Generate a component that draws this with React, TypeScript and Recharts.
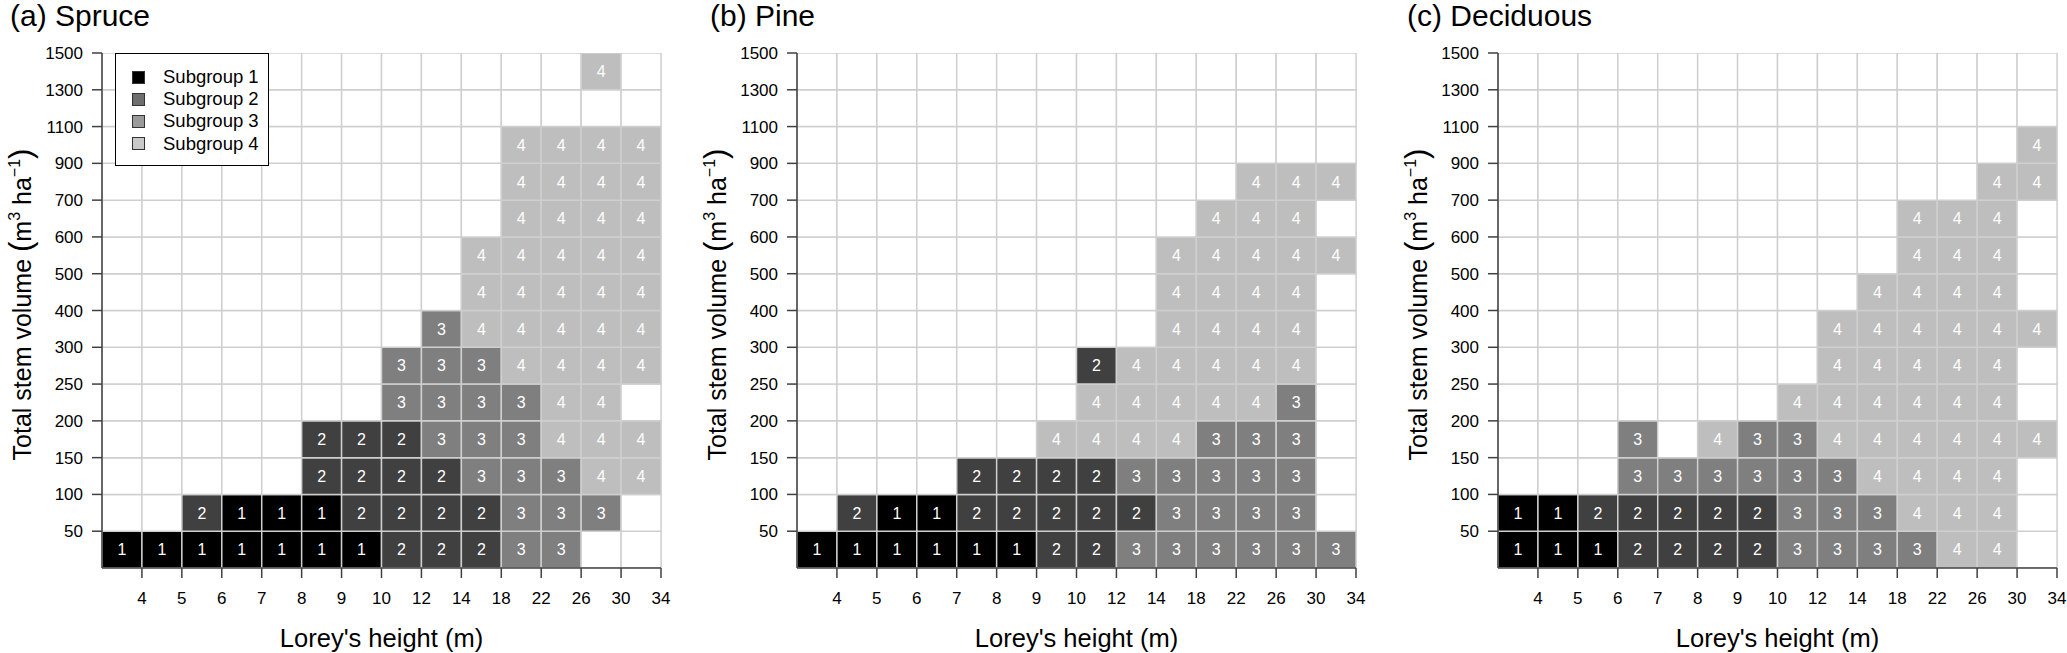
import React from "react";
import { BarChart, Bar, Cell, XAxis, YAxis, LabelList, Legend } from "recharts";

// class boundaries shown on the axes (first column and first row have no lower label)
const heightLabels = ["4", "5", "6", "7", "8", "9", "10", "12", "14", "18", "22", "26", "30", "34"];
const volumeLabels = ["50", "100", "150", "200", "250", "300", "400", "500", "600", "700", "900", "1100", "1300", "1500"];
const subgroupNames = ["Subgroup 1", "Subgroup 2", "Subgroup 3", "Subgroup 4"];

// subgroup of each cell; rows go upward from the 0-50 class, columns from <4 m to 30-34 m; 0 = empty
const spruce = [
  [1, 1, 1, 1, 1, 1, 1, 2, 2, 2, 3, 3, 0, 0],
  [0, 0, 2, 1, 1, 1, 2, 2, 2, 2, 3, 3, 3, 0],
  [0, 0, 0, 0, 0, 2, 2, 2, 2, 3, 3, 3, 4, 4],
  [0, 0, 0, 0, 0, 2, 2, 2, 3, 3, 3, 4, 4, 4],
  [0, 0, 0, 0, 0, 0, 0, 3, 3, 3, 3, 4, 4, 0],
  [0, 0, 0, 0, 0, 0, 0, 3, 3, 3, 4, 4, 4, 4],
  [0, 0, 0, 0, 0, 0, 0, 0, 3, 4, 4, 4, 4, 4],
  [0, 0, 0, 0, 0, 0, 0, 0, 0, 4, 4, 4, 4, 4],
  [0, 0, 0, 0, 0, 0, 0, 0, 0, 4, 4, 4, 4, 4],
  [0, 0, 0, 0, 0, 0, 0, 0, 0, 0, 4, 4, 4, 4],
  [0, 0, 0, 0, 0, 0, 0, 0, 0, 0, 4, 4, 4, 4],
  [0, 0, 0, 0, 0, 0, 0, 0, 0, 0, 4, 4, 4, 4],
  [0, 0, 0, 0, 0, 0, 0, 0, 0, 0, 0, 0, 0, 0],
  [0, 0, 0, 0, 0, 0, 0, 0, 0, 0, 0, 0, 4, 0],
];

const pine = [
  [1, 1, 1, 1, 1, 1, 2, 2, 3, 3, 3, 3, 3, 3],
  [0, 2, 1, 1, 2, 2, 2, 2, 2, 3, 3, 3, 3, 0],
  [0, 0, 0, 0, 2, 2, 2, 2, 3, 3, 3, 3, 3, 0],
  [0, 0, 0, 0, 0, 0, 4, 4, 4, 4, 3, 3, 3, 0],
  [0, 0, 0, 0, 0, 0, 0, 4, 4, 4, 4, 4, 3, 0],
  [0, 0, 0, 0, 0, 0, 0, 2, 4, 4, 4, 4, 4, 0],
  [0, 0, 0, 0, 0, 0, 0, 0, 0, 4, 4, 4, 4, 0],
  [0, 0, 0, 0, 0, 0, 0, 0, 0, 4, 4, 4, 4, 0],
  [0, 0, 0, 0, 0, 0, 0, 0, 0, 4, 4, 4, 4, 4],
  [0, 0, 0, 0, 0, 0, 0, 0, 0, 0, 4, 4, 4, 0],
  [0, 0, 0, 0, 0, 0, 0, 0, 0, 0, 0, 4, 4, 4],
  [0, 0, 0, 0, 0, 0, 0, 0, 0, 0, 0, 0, 0, 0],
  [0, 0, 0, 0, 0, 0, 0, 0, 0, 0, 0, 0, 0, 0],
  [0, 0, 0, 0, 0, 0, 0, 0, 0, 0, 0, 0, 0, 0],
];

const deciduous = [
  [1, 1, 1, 2, 2, 2, 2, 3, 3, 3, 3, 4, 4, 0],
  [1, 1, 2, 2, 2, 2, 2, 3, 3, 3, 4, 4, 4, 0],
  [0, 0, 0, 3, 3, 3, 3, 3, 3, 4, 4, 4, 4, 0],
  [0, 0, 0, 3, 0, 4, 3, 3, 4, 4, 4, 4, 4, 4],
  [0, 0, 0, 0, 0, 0, 0, 4, 4, 4, 4, 4, 4, 0],
  [0, 0, 0, 0, 0, 0, 0, 0, 4, 4, 4, 4, 4, 0],
  [0, 0, 0, 0, 0, 0, 0, 0, 4, 4, 4, 4, 4, 4],
  [0, 0, 0, 0, 0, 0, 0, 0, 0, 4, 4, 4, 4, 0],
  [0, 0, 0, 0, 0, 0, 0, 0, 0, 0, 4, 4, 4, 0],
  [0, 0, 0, 0, 0, 0, 0, 0, 0, 0, 4, 4, 4, 0],
  [0, 0, 0, 0, 0, 0, 0, 0, 0, 0, 0, 0, 4, 4],
  [0, 0, 0, 0, 0, 0, 0, 0, 0, 0, 0, 0, 0, 4],
  [0, 0, 0, 0, 0, 0, 0, 0, 0, 0, 0, 0, 0, 0],
  [0, 0, 0, 0, 0, 0, 0, 0, 0, 0, 0, 0, 0, 0],
];

const cellFill = ["#ffffff", "#000000", "#404040", "#7f7f7f", "#bebebe"];
const legendFill = ["#000000", "#6e6e6e", "#9a9a9a", "#c9c9c9"];
const gridColor = "#cfcfcf";
const axisColor = "#404040";
const font = "'Liberation Sans', Arial, Helvetica, sans-serif";

const boundaryTicks = heightLabels.map((_, i) => i + 1);
const rowIds = volumeLabels.map((_, i) => i);

// one entry per height class, each volume class stacked as a band of height 1;
// "edge" is the index of the class's upper boundary, used by the labelled axis
const toColumns = (grid: number[][]) =>
  heightLabels.map((_, c) => {
    const entry: Record<string, number> = { col: c, edge: c + 1 };
    grid.forEach((row, r) => {
      entry[`h${r}`] = 1;
      entry[`g${r}`] = row[c];
    });
    return entry;
  });

const CellNumber = (props: any) => {
  const { x, y, width, height, value } = props;
  if (!value) return null;
  return (
    <text x={x + width / 2} y={y + height / 2} dy="0.36em" textAnchor="middle" fill="#ffffff" fontSize={16}>
      {value}
    </text>
  );
};

const HeightTitle = (props: any) => {
  const vb = props.viewBox;
  return (
    <text x={vb.x + vb.width / 2} y={vb.y + 79} textAnchor="middle" fontSize={25.5} fill="#000">
      Lorey's height (m)
    </text>
  );
};

const VolumeTitle = (props: any) => {
  const vb = props.viewBox;
  const bx = vb.x + vb.width - 71;
  const cy = vb.y + vb.height / 2 - 6;
  return (
    <text transform={`rotate(-90, ${bx}, ${cy})`} x={bx} y={cy} textAnchor="middle" fontSize={25} fill="#000">
      <tspan>{"Total stem volume "}</tspan>
      <tspan fontSize={31}>(</tspan>
      <tspan>m</tspan>
      <tspan fontSize={16} dy={-11}>3</tspan>
      <tspan dy={11}>{"  ha"}</tspan>
      <tspan fontSize={16} dy={-11}>−1</tspan>
      <tspan fontSize={31} dy={11}>)</tspan>
    </text>
  );
};

const SubgroupLegend = () => (
  <div
    style={{
      border: "1px solid #000",
      background: "#fff",
      width: 152,
      height: 111,
      position: "relative",
      fontFamily: font,
      fontSize: 18.5,
      color: "#000",
    }}
  >
    {subgroupNames.map((name, i) => (
      <div key={name} style={{ position: "absolute", left: 0, top: 12 + i * 22.2, height: 22, width: 152 }}>
        <div
          style={{
            position: "absolute",
            left: 16,
            top: 4.5,
            width: 13,
            height: 13,
            boxSizing: "border-box",
            background: legendFill[i],
            border: "1px solid #333",
          }}
        />
        <div style={{ position: "absolute", left: 47, top: 0, lineHeight: "22px", whiteSpace: "nowrap" }}>{name}</div>
      </div>
    ))}
  </div>
);

interface PanelProps {
  title: string;
  grid: number[][];
  left: number;
  titleX: number;
  axisWidth: number;
  rightMargin: number;
  showLegend?: boolean;
}

const Panel = ({ title, grid, left, titleX, axisWidth, rightMargin, showLegend }: PanelProps) => {
  const cols = toColumns(grid);
  return (
    <div style={{ position: "absolute", left, top: 0, width: 689, height: 653 }}>
      <div style={{ position: "absolute", left: titleX, top: 1, fontSize: 30, lineHeight: "30px", whiteSpace: "nowrap" }}>
        {title}
      </div>
      <BarChart
        width={689}
        height={653}
        data={cols}
        margin={{ top: 53, right: rightMargin, bottom: 0, left: 0 }}
        barCategoryGap={0}
        barGap={0}
      >
        {rowIds.map((r) => (
          <Bar key={r} dataKey={`h${r}`} stackId="v" xAxisId="cat" isAnimationActive={false}>
            {cols.map((d, c) => (
              <Cell key={c} fill={cellFill[d[`g${r}`]]} stroke={gridColor} strokeWidth={1.5} />
            ))}
            <LabelList dataKey={`g${r}`} content={CellNumber} />
          </Bar>
        ))}
        <XAxis xAxisId="cat" dataKey="col" type="category" hide height={0} />
        <XAxis
          xAxisId="edge"
          dataKey="edge"
          type="number"
          domain={[0, 14]}
          allowDataOverflow
          ticks={boundaryTicks}
          interval={0}
          tickFormatter={(v: number) => heightLabels[v - 1]}
          height={85}
          tickSize={10}
          tickMargin={14}
          stroke={axisColor}
          strokeWidth={1.5}
          tick={{ fill: "#000", fontSize: 17 }}
          label={(p: any) => <HeightTitle {...p} />}
        />
        <YAxis
          type="number"
          domain={[0, 14]}
          allowDataOverflow
          ticks={boundaryTicks}
          interval={0}
          tickFormatter={(v: number) => volumeLabels[v - 1]}
          width={axisWidth}
          tickSize={10}
          tickMargin={9}
          stroke={axisColor}
          strokeWidth={1.5}
          tick={{ fill: "#000", fontSize: 17 }}
          label={(p: any) => <VolumeTitle {...p} />}
        />
        {showLegend && (
          <Legend
            layout="vertical"
            align="center"
            verticalAlign="middle"
            wrapperStyle={{ position: "absolute", top: 53, left: 115, width: 154, height: 113 }}
            content={() => <SubgroupLegend />}
          />
        )}
      </BarChart>
    </div>
  );
};

export default function App() {
  return (
    <div style={{ position: "relative", width: 2067, height: 653, background: "#fff", fontFamily: font }}>
      <style>{"body{margin:0}"}</style>
      <Panel title="(a) Spruce" grid={spruce} left={0} titleX={10} axisWidth={102} rightMargin={28} showLegend />
      <Panel title="(b) Pine" grid={pine} left={689} titleX={21} axisWidth={108} rightMargin={22} />
      <Panel title="(c) Deciduous" grid={deciduous} left={1378} titleX={29} axisWidth={120} rightMargin={10} />
    </div>
  );
}
